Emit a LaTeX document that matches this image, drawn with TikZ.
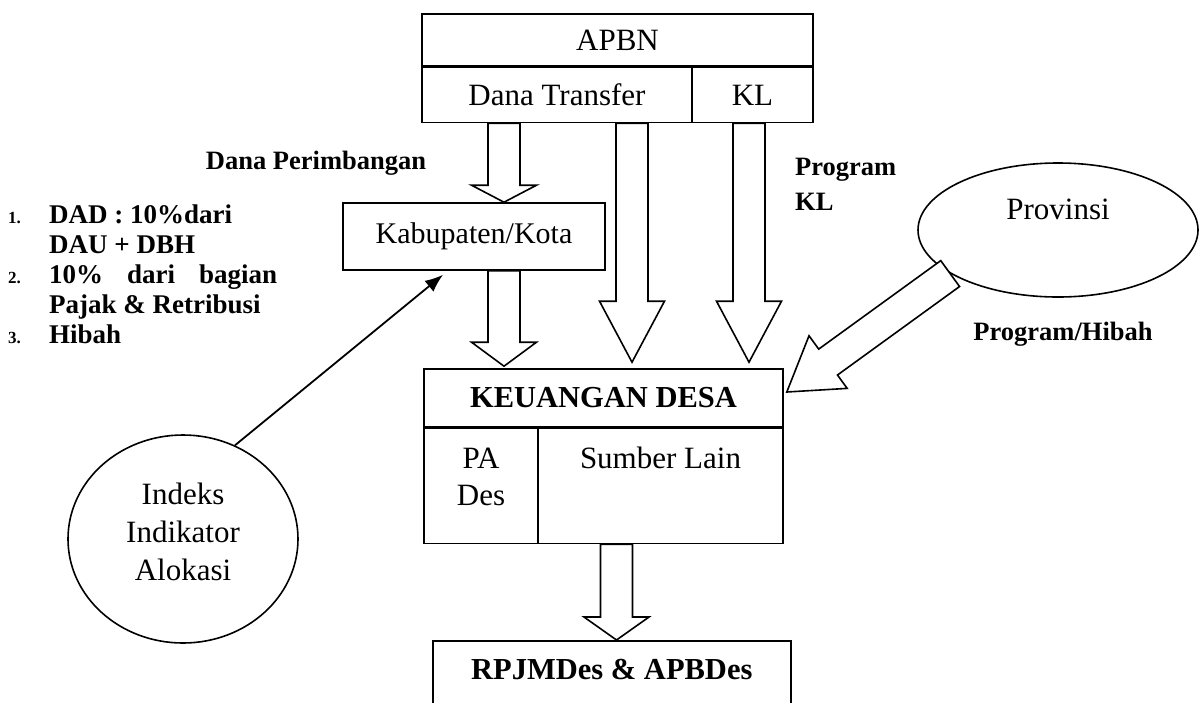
\documentclass[tikz,border=0pt]{standalone}
\usepackage{fontspec}
\setmainfont{Liberation Serif}
\usetikzlibrary{positioning,calc,shapes.geometric,arrows.meta}

% hollow block arrow: tail, tip, head length
\newcommand{\fatarrow}[3]{%
  \path let \p1=($(#2)-(#1)$), \n1={atan2(\y1,\x1)}, \n2={veclen(\x1,\y1)} in
    \pgfextra{\xdef\fatang{\n1}\xdef\fatlen{\n2}};
  \draw[fat, shift={(#1)}, rotate=\fatang]
    (0pt,-16pt) -- ({\fatlen-#3},-16pt) -- ({\fatlen-#3},-32.5pt)
    -- (\fatlen,0pt) -- ({\fatlen-#3},32.5pt) -- ({\fatlen-#3},16pt)
    -- (0pt,16pt) -- cycle;
}
\newcommand{\itemno}[1]{{\fontsize{17}{30}\selectfont #1}}

\tikzset{
  cell/.style={draw, rectangle, line width=1.6pt, inner sep=0pt, font=\fontsize{31}{37}\selectfont},
  oval/.style={draw, ellipse, line width=1.6pt, inner sep=0pt},
  fat/.style={draw, fill=white, line width=1.6pt, line join=miter},
  toptext/.style={inner sep=0pt, align=center, font=\fontsize{31}{37}\selectfont},
  lbl/.style={inner sep=0pt, font=\fontsize{26.5}{35}\selectfont\bfseries},
  pointer/.style={line width=1.8pt, -{Latex[length=18pt,width=14pt]}},
}

\begin{document}
\begin{tikzpicture}[x=1pt,y=-1pt]
\useasboundingbox (0,0) rectangle (1199,702);

% sources
\node[cell, minimum width=391pt, minimum height=52pt] (apbn) at (617.5,40) {APBN};
\node[cell, anchor=north west, minimum width=270pt, minimum height=55pt] (transfer) at (apbn.south west) {Dana Transfer};
\node[cell, anchor=north east, minimum width=121pt, minimum height=55pt] (kl) at (apbn.south east) {KL};
\node[cell, minimum width=262pt, minimum height=67pt, font=\fontsize{30}{36}\selectfont] (kab) at (474,236.5) {Kabupaten/Kota};
\node[oval, minimum width=280pt, minimum height=134pt,
  label={[toptext, yshift=21pt]center:Provinsi}] (prov) at (1058,230) {};
\node[oval, minimum width=230pt, minimum height=208pt,
  label={[toptext, font=\fontsize{31}{38}\selectfont, yshift=7pt]center:Indeks\\Indikator\\Alokasi}] (indeks) at (183,539) {};

% keuangan desa
\node[cell, minimum width=359pt, minimum height=58pt, font=\fontsize{30.5}{37}\selectfont\bfseries] (desa) at (603.5,398) {KEUANGAN DESA};
\node[cell, anchor=north west, minimum width=114pt, minimum height=115pt,
  label={[toptext, below=20pt]north:PA\\Des}] (pades) at (desa.south west) {};
\node[cell, anchor=north east, minimum width=245pt, minimum height=115pt,
  label={[toptext, below=19pt]north:Sumber Lain}] (lain) at (desa.south east) {};
\node[cell, anchor=north west, minimum width=358pt, minimum height=100pt,
  label={[toptext, font=\fontsize{30.5}{37}\selectfont\bfseries, anchor=base, yshift=-39pt]north:RPJMDes \& APBDes}] (rpj) at (432,640) {};

% labels
\node[lbl, anchor=base] (perimbangan) at (316,169) {Dana Perimbangan};
\node[lbl, anchor=north west, align=left] (progkl) at (795,158) {Program\\KL};
\node[lbl, anchor=base] (proghibah) at (1063,340) {Program/Hibah};
\node[lbl, anchor=north west, font=\fontsize{27}{30}\selectfont\bfseries] (rincian) at (8,202) {%
  \begin{tabular}{@{}p{41pt}@{}l@{}}
  \itemno{1.} & DAD : 10\%dari\\
   & DAU + DBH\\
  \itemno{2.} & \makebox[228pt][s]{10\% dari bagian}\\
   & Pajak \& Retribusi\\
  \itemno{3.} & Hibah
  \end{tabular}};

% block arrows
\coordinate (a1s) at (504,0 |- transfer.south);
\coordinate (a1e) at (504,0 |- kab.north);
\coordinate (a2s) at (504,0 |- kab.south);
\coordinate (a2e) at ($(504,0 |- desa.north)+(0,-2)$);
\coordinate (a3s) at (632,0 |- transfer.south);
\coordinate (a3e) at ($(632,0 |- desa.north)+(0,-6)$);
\coordinate (a4s) at (749,0 |- kl.south);
\coordinate (a4e) at ($(749,0 |- desa.north)+(0,-6)$);
\coordinate (a5s) at (616.5,0 |- lain.south);
\coordinate (a5e) at (616.5,0 |- rpj.north);
\coordinate (a6e) at ($(desa.east)+(3,-6)$);
\fatarrow{a1s}{a1e}{17pt}
\fatarrow{a2s}{a2e}{24pt}
\fatarrow{a3s}{a3e}{61pt}
\fatarrow{a4s}{a4e}{61pt}
\fatarrow{a5s}{a5e}{23pt}
\fatarrow{prov.202}{a6e}{51pt}

\draw[pointer] (indeks.61) -- ($(kab.south)+(-31,4)$);
\end{tikzpicture}
\end{document}
